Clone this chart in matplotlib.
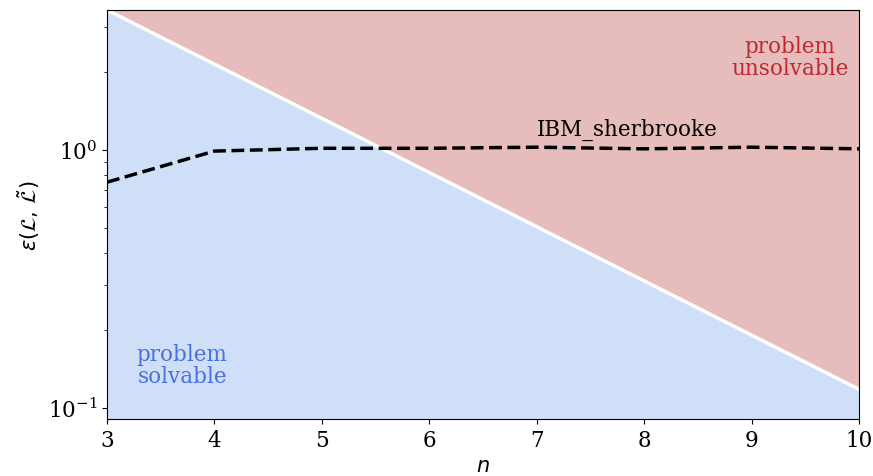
import numpy as np
import matplotlib.pyplot as plt

plt.rcParams['font.family'] = 'DejaVu Serif'
plt.rcParams['mathtext.fontset'] = 'dejavusans'
plt.rcParams['font.size'] = 15.5

# boundary between solvable / unsolvable regions
n_bound = [3, 10]
eps_bound = [3.49, 0.118]

# measured error for the device
n_dev = [3, 4, 5, 6, 7, 8, 9, 10]
eps_dev = [0.75, 0.99, 1.015, 1.015, 1.025, 1.01, 1.025, 1.01]
dev_name = 'IBM_sherbrooke'

y_lo, y_hi = 0.0905, 3.49

fig = plt.figure(figsize=(8.73, 4.77), dpi=100)
ax = fig.add_axes([0.1226, 0.1195, 0.8614, 0.8575])

ax.set_yscale('log')
ax.fill_between(n_bound, y_lo, eps_bound, color='#cfdff7', lw=0)
ax.fill_between(n_bound, eps_bound, y_hi, color='#e6bcbd', lw=0)
ax.plot(n_bound, eps_bound, color='white', lw=2.5)
ax.plot(n_dev, eps_dev, color='black', ls='--', lw=2.5)

ax.text(7.84, 1.09, dev_name, ha='center', va='bottom')
ax.text(3.70, 0.146, 'problem\nsolvable', ha='center', va='center',
        multialignment='center', color='#4a6fe0', linespacing=1.0)
ax.text(9.36, 2.3, 'problem\nunsolvable', ha='center', va='center',
        multialignment='center', color='#c0282f', linespacing=1.0)

ax.set_xlim(3, 10)
ax.set_ylim(y_lo, y_hi)
ax.set_xlabel('$n$', fontsize=15)
ax.set_ylabel(r'$\varepsilon(\mathcal{L},\,\tilde{\mathcal{L}})$', fontsize=15)

fig.savefig('out.png', dpi=100)
